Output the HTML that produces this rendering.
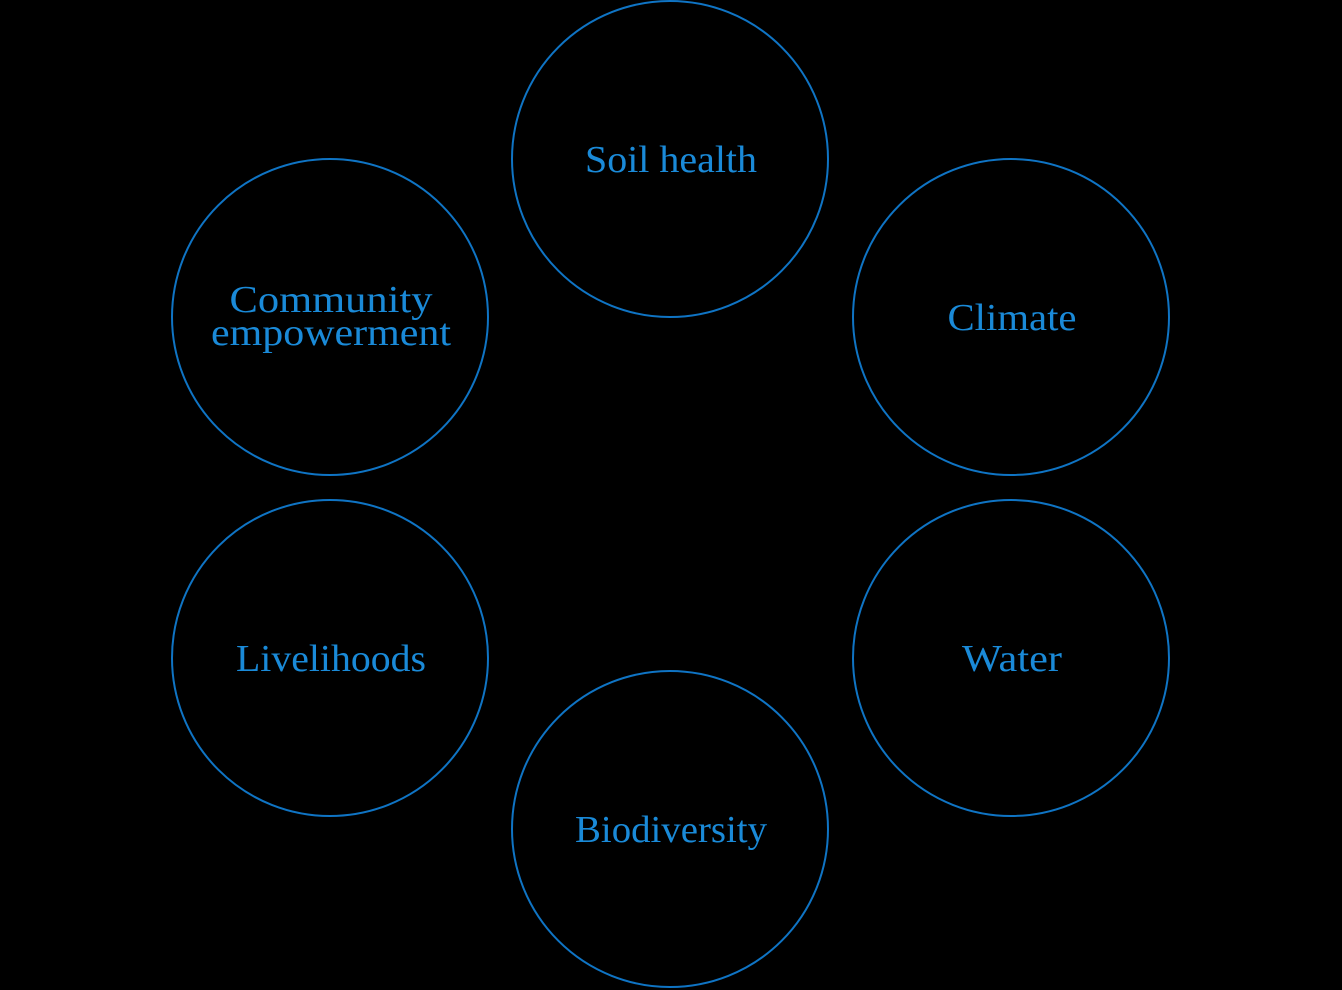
<!DOCTYPE html>
<html><head><meta charset="utf-8"><style>
html,body{margin:0;padding:0;background:#000;width:1342px;height:990px;overflow:hidden}
</style></head><body>
<svg width="1342" height="990" xmlns="http://www.w3.org/2000/svg">
<rect width="1342" height="990" fill="#000"/>
<g fill="none" stroke="#0f74c4" stroke-width="2">
<circle cx="670" cy="159" r="158"/>
<circle cx="1011" cy="317" r="158"/>
<circle cx="1011" cy="658" r="158"/>
<circle cx="670" cy="829" r="158"/>
<circle cx="330" cy="658" r="158"/>
<circle cx="330" cy="317" r="158"/>
</g>
<g fill="#1a8ad8" font-family="Liberation Serif, serif" font-size="38" text-anchor="middle">
<text x="671" y="172" textLength="172" lengthAdjust="spacingAndGlyphs">Soil health</text>
<text x="1012" y="330" textLength="129" lengthAdjust="spacingAndGlyphs">Climate</text>
<text x="1012" y="671" textLength="100" lengthAdjust="spacingAndGlyphs">Water</text>
<text x="671" y="842" textLength="192" lengthAdjust="spacingAndGlyphs">Biodiversity</text>
<text x="331" y="671" textLength="190" lengthAdjust="spacingAndGlyphs">Livelihoods</text>
<text x="331" y="312" textLength="203" lengthAdjust="spacingAndGlyphs">Community</text>
<text x="331" y="345" textLength="240" lengthAdjust="spacingAndGlyphs">empowerment</text>
</g>
</svg>
</body></html>
